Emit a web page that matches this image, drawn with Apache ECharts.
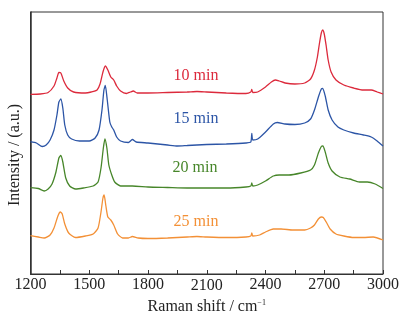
<!DOCTYPE html>
<html>
<head>
<meta charset="utf-8">
<script src="https://cdn.jsdelivr.net/npm/echarts@6/dist/echarts.min.js"></script>
<style>html,body{margin:0;padding:0;background:#fff;}#c{width:413px;height:327px;}</style>
</head>
<body>
<div id="c"></div>
<script>
// Raman shift (cm^-1) and intensity (a.u., arbitrary offset)
const xTicks = [1200, 1500, 1800, 2100, 2400, 2700, 3000];
const seriesNames = ['10 min', '15 min', '20 min', '25 min'];

const s10 = [[1200,179.7],[1250,180],[1290,181.5],[1320,188],[1335,196],[1345,201.5],[1355,201],[1370,193],[1390,186],[1420,182],[1480,181],[1510,182],[1540,184],[1555,190],[1570,202],[1582,208],[1595,204],[1610,197],[1625,194],[1640,188],[1660,183],[1690,180.5],[1710,182],[1725,183],[1745,181],[1800,181],[1900,181.5],[2000,182],[2050,182.5],[2100,182],[2200,181],[2300,180.5],[2325,182],[2330,184.5],[2335,181.5],[2360,182],[2400,187],[2430,192],[2450,194],[2470,193],[2500,191],[2550,190],[2600,191],[2630,195],[2650,204],[2665,217],[2675,230],[2685,241],[2692,244],[2700,240],[2710,228],[2720,214],[2735,202],[2760,194],[2800,189],[2850,186],[2900,184],[2940,184],[2970,182],[3000,180]];

const s15 = [[1200,132.3],[1230,131],[1260,127.5],[1280,129],[1300,134],[1320,144],[1335,159],[1345,172],[1355,175],[1365,166],[1375,149],[1390,139],[1410,135],[1450,133],[1500,133],[1530,136],[1550,144],[1565,164],[1575,184],[1582,188.5],[1592,174],[1605,152],[1615,147],[1625,144],[1640,137],[1660,133],[1700,131.5],[1720,134.5],[1740,132],[1800,131],[1900,129],[1950,128],[2000,128.5],[2100,129.5],[2200,130],[2300,131],[2325,132],[2330,140.5],[2335,134],[2360,135],[2400,142],[2440,150],[2460,151.5],[2500,150],[2550,149.5],[2600,151],[2630,155],[2650,164],[2670,177],[2685,185],[2692,185.5],[2705,178],[2720,164],[2740,154],[2770,147],[2800,144],[2850,141],[2900,139],[2940,137],[2970,133],[3000,128]];

const s20 = [[1200,86.3],[1240,85.5],[1270,83],[1290,85],[1310,90],[1330,102],[1345,116],[1355,118.5],[1365,112],[1380,96],[1400,88],[1430,85],[1470,86],[1520,88],[1545,92],[1560,106],[1572,126],[1580,135],[1590,126],[1600,109],[1615,99],[1630,92],[1660,88],[1720,88],[1800,87],[1900,86.5],[2000,86],[2100,86],[2200,86],[2300,87],[2325,88],[2330,91],[2335,88],[2360,89],[2400,93],[2440,98],[2470,99],[2520,99],[2580,101],[2630,104],[2650,109],[2670,121],[2685,127.5],[2693,128],[2705,122],[2720,111],[2740,103],[2780,97],[2830,95],[2880,92],[2920,92],[2960,90],[3000,85.5]];

const s25 = [[1200,38.3],[1240,37],[1270,36],[1300,39],[1320,46],[1340,58],[1352,62],[1362,60],[1375,50],[1395,41],[1430,36.5],[1480,38],[1520,40],[1545,46],[1560,62],[1570,76],[1576,79],[1585,68],[1595,57],[1610,54],[1625,49],[1645,40],[1670,36],[1700,36],[1720,37.5],[1750,36],[1800,35.5],[1900,36],[2000,37],[2050,37.5],[2100,37],[2200,36.5],[2300,37],[2325,38],[2330,41],[2335,38],[2370,39],[2400,42],[2440,45],[2480,45],[2540,44],[2600,44],[2630,46],[2650,49],[2670,55],[2685,57],[2695,56.5],[2710,52],[2730,45],[2760,40],[2800,38],[2850,36.5],[2900,36.5],[2950,37],[3000,34]];

const colors = ['#dc2a3c', '#2c55a6', '#47862a', '#f39036'];
const allData = [s10, s15, s20, s25];
const font = '"Liberation Serif", "Times New Roman", serif';

const chart = echarts.init(document.getElementById('c'), null, {renderer: 'canvas'});
chart.setOption({
  animation: false,
  backgroundColor: '#fff',
  grid: {left: 30.5, right: 30, top: 12, bottom: 53, show: true, borderColor: '#333', borderWidth: 1, backgroundColor: 'transparent'},
  xAxis: {
    type: 'value', min: xTicks[0], max: xTicks[xTicks.length - 1], interval: 300,
    axisLine: {show: true, lineStyle: {color: '#333', width: 1}},
    axisTick: {show: true, inside: true, length: 4, lineStyle: {color: '#333'}},
    minorTick: {show: true, splitNumber: 2, length: 4, lineStyle: {color: '#333'}},
    splitLine: {show: false},
    axisLabel: {
      color: '#222', fontFamily: font, fontSize: 16, margin: 3,
      formatter: v => v === 2100 ? '{low|' + v + '}' : '' + v,
      rich: {low: {fontFamily: font, fontSize: 16, color: '#222', padding: [1, 0, 0, 0]}}
    },
    name: '{a|Raman shift / cm}{s|−1}',
    nameLocation: 'middle', nameGap: 2,
    nameTextStyle: {
      rich: {
        a: {fontFamily: font, fontSize: 16, color: '#222'},
        s: {fontFamily: font, fontSize: 8, color: '#222', verticalAlign: 'top', padding: [0, 0, 8, 0]}
      }
    }
  },
  yAxis: {
    type: 'value', min: 0, max: 262,
    axisLine: {show: true, lineStyle: {color: '#333', width: 1.5}},
    axisTick: {show: false}, axisLabel: {show: false}, splitLine: {show: false}
  },
  graphic: [
    {type: 'text', x: 15, y: 155, rotation: Math.PI / 2,
     style: {text: 'Intensity / (a.u.)', font: '16px ' + font, fill: '#222', textAlign: 'center', textVerticalAlign: 'middle'}},
    {type: 'text', x: 196, y: 76, style: {text: seriesNames[0], font: '16px ' + font, fill: colors[0], textAlign: 'center', textVerticalAlign: 'middle'}},
    {type: 'text', x: 196, y: 119, style: {text: seriesNames[1], font: '16px ' + font, fill: colors[1], textAlign: 'center', textVerticalAlign: 'middle'}},
    {type: 'text', x: 195, y: 168, style: {text: seriesNames[2], font: '16px ' + font, fill: colors[2], textAlign: 'center', textVerticalAlign: 'middle'}},
    {type: 'text', x: 196, y: 222, style: {text: seriesNames[3], font: '16px ' + font, fill: colors[3], textAlign: 'center', textVerticalAlign: 'middle'}}
  ],
  series: allData.map((d, i) => ({
    name: seriesNames[i], type: 'line', data: d, showSymbol: false, symbol: 'none',
    lineStyle: {color: colors[i], width: 1.3}, smooth: 0.2
  }))
});
</script>
</body>
</html>
